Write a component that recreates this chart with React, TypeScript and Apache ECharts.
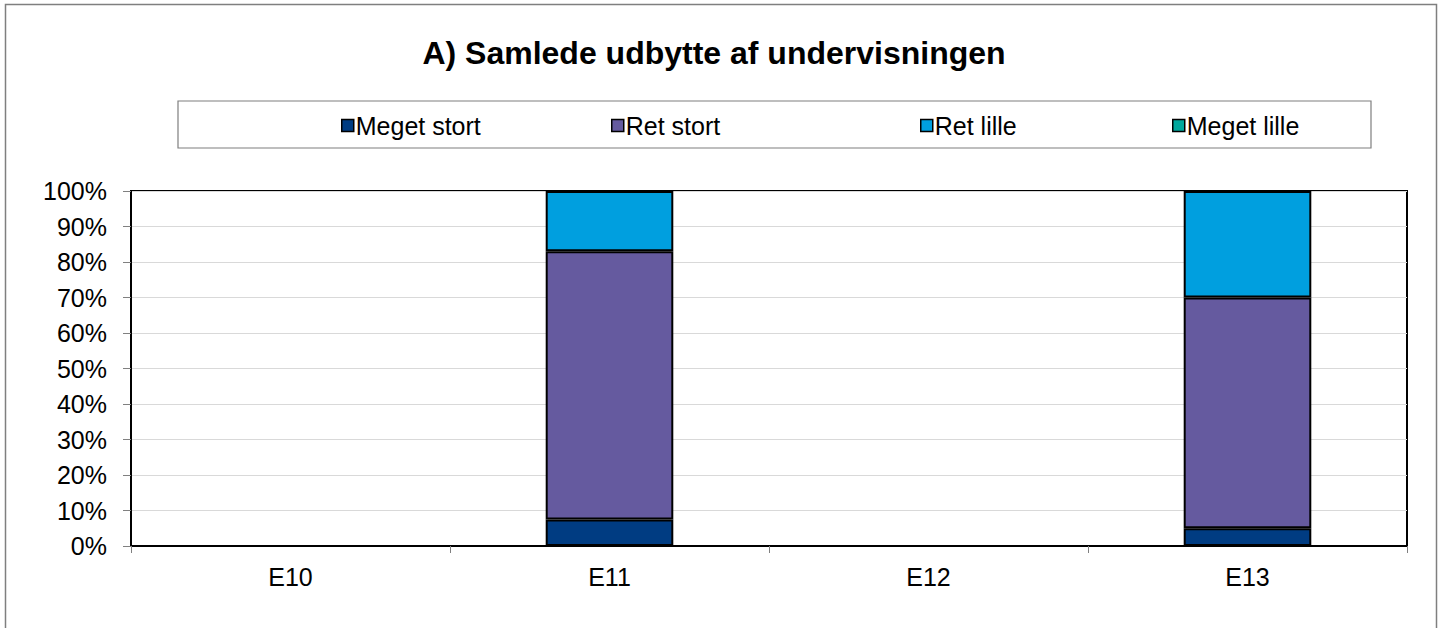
import React, { useEffect, useRef } from "react";
import * as echarts from "echarts";

const categories = ["E10", "E11", "E12", "E13"];
const seriesNames = ["Meget stort", "Ret stort", "Ret lille", "Meget lille"];
const megetStort = [null, 7.5, null, 5];
const retStort = [null, 75.5, null, 65];
const retLille = [null, 17, null, 30];
const megetLille = [null, null, null, null];
const colors = ["#003C82", "#655A9F", "#009FDF", "#00A89D"];
const legendLefts = [336, 606, 915, 1167];

const FONT = "'Liberation Sans', Arial, sans-serif";

export default function App() {
  const ref = useRef<HTMLDivElement>(null);
  useEffect(() => {
    if (!ref.current) return;
    const chart = echarts.init(ref.current, null, { renderer: "svg" });
    const data = [megetStort, retStort, retLille, megetLille];
    chart.setOption({
      animation: false,
      backgroundColor: "#ffffff",
      textStyle: { fontFamily: FONT },
      title: {
        text: "A) Samlede udbytte af undervisningen",
        left: 709,
        textAlign: "center",
        top: 32,
        textStyle: { fontFamily: FONT, fontSize: 32, fontWeight: "bold", color: "#000" },
      },
      graphic: [
        {
          type: "rect",
          shape: { x: 5.5, y: 4.5, width: 1431, height: 640 },
          style: { fill: "none", stroke: "#7f7f7f", lineWidth: 1.5 },
          silent: true,
        },
        {
          type: "rect",
          shape: { x: 178, y: 101, width: 1193, height: 47 },
          style: { fill: "none", stroke: "#7f7f7f", lineWidth: 1.2 },
          silent: true,
        },
      ],
      legend: seriesNames.map((n, i) => ({
        data: [n],
        left: legendLefts[i],
        top: 108,
        icon: "rect",
        itemWidth: 12,
        itemHeight: 12,
        itemStyle: { borderColor: "#000", borderWidth: 1.5 },
        textStyle: { fontFamily: FONT, fontSize: 25, color: "#000", padding: [0, 0, 0, -3] },
        selectedMode: false,
      })),
      grid: {
        left: 131,
        right: 37,
        top: 191,
        bottom: 82,
        show: true,
        borderColor: "#000",
        borderWidth: 2,
        containLabel: false,
      },
      xAxis: {
        type: "category",
        data: categories,
        boundaryGap: true,
        axisLine: { lineStyle: { color: "#000", width: 2 } },
        axisTick: { show: true, length: 7, lineStyle: { color: "#808080" } },
        axisLabel: { fontFamily: FONT, fontSize: 25, color: "#000", margin: 18 },
        splitLine: { show: false },
      },
      yAxis: {
        type: "value",
        min: 0,
        max: 100,
        interval: 10,
        axisLine: { show: true, lineStyle: { color: "#000", width: 2 } },
        axisTick: { show: true, length: 8, lineStyle: { color: "#808080" } },
        axisLabel: { fontFamily: FONT, fontSize: 25, color: "#000", margin: 24, formatter: "{value}%" },
        splitLine: { show: true, lineStyle: { color: "#d9d9d9", width: 1 } },
      },
      series: seriesNames.map((n, i) => ({
        name: n,
        type: "bar",
        stack: "total",
        data: data[i],
        barWidth: "40%",
        itemStyle: { color: colors[i], borderColor: "#000", borderWidth: 2 },
      })),
    });
    return () => chart.dispose();
  }, []);
  return (
    <div
      ref={ref}
      style={{ position: "fixed", left: 0, top: 0, width: 1444, height: 628 }}
    />
  );
}
